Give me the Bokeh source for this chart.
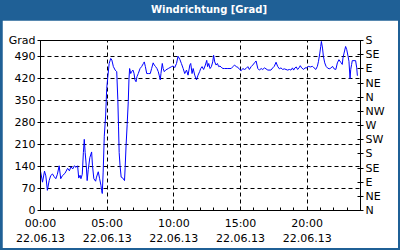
import pandas as pd
from bokeh.plotting import figure
from bokeh.models import Range1d, FixedTicker, LinearAxis, DatetimeTickFormatter, Div, Column
from bokeh.embed import file_html
from bokeh.resources import INLINE

TITLE = "Windrichtung [Grad]"
DATE = "2013-06-22"

# minutes after midnight, wind direction in degrees (0..540 scale)
minutes = [0, 9, 18, 24, 31, 39, 46, 54, 61, 69, 76, 84, 91, 98, 110, 122, 130, 137, 145, 152,
           160, 167, 172, 178, 182, 188, 193, 197, 201, 206, 210, 215, 222, 230, 234, 240, 248, 252,
           260, 266, 272, 275, 278, 282, 287, 293,
           298, 303, 309, 316, 321, 328, 336, 343, 348, 351, 354, 358, 363, 369, 373, 378, 381, 385,
           390, 395, 398, 401, 406, 410, 416, 421, 425, 430, 434, 440, 448, 455, 463, 467, 472, 478,
           485, 494, 500, 507, 512, 518, 524, 530, 534, 539, 542, 548, 552, 557, 563, 575, 590, 597,
           604, 612, 619, 627, 634, 642, 649, 657, 664, 672, 676, 682, 687, 694, 702, 709, 716, 721,
           727, 734, 742, 748, 752, 757, 763, 769, 775, 779, 784, 790, 796, 802, 808, 813, 821, 828,
           843, 858, 866, 873, 881, 888, 896, 903, 910, 918, 925, 933, 940, 948, 955, 963, 970, 978,
           985, 993, 1000,
           1008, 1023, 1037, 1045, 1052, 1060, 1067, 1075, 1082, 1090, 1097, 1112, 1120, 1127, 1134,
           1139, 1145, 1151, 1157, 1163, 1169, 1175, 1184, 1190, 1199, 1205, 1214, 1224, 1231, 1239,
           1246, 1251, 1257, 1261, 1264, 1269, 1273, 1279, 1285, 1291, 1299, 1306, 1314, 1321, 1329,
           1336, 1343, 1351, 1358, 1361, 1366, 1373, 1378, 1384, 1388, 1393, 1396, 1400, 1403, 1411,
           1418, 1423, 1426]
degrees = [125, 90, 125, 110, 64, 95, 111, 116, 108, 101, 115, 142, 101, 110, 118, 134, 126, 139, 132, 142,
           137, 142, 103, 112, 101, 115, 184, 226, 184, 142, 95, 130, 168, 186, 142, 101, 93, 106,
           123, 101, 80, 64, 54, 122, 236, 300,
           388, 425, 467, 483, 478, 457, 446, 441, 352, 268, 184, 142, 106, 104, 100, 95, 137, 205,
           273, 346, 415, 451, 435, 441, 446, 435, 415, 409, 425, 435, 451, 457, 467, 472, 457, 435,
           435, 435, 451, 469, 462, 457, 451, 441, 430, 415, 435, 467, 451, 441, 446, 451, 457, 459,
           454, 467, 490, 480, 467, 451, 435, 446, 430, 462, 467, 435, 451, 430, 415, 430, 441, 451,
           457, 448, 462, 477, 457, 467, 451, 457, 472, 493, 472, 462, 467, 457, 459, 455, 451, 451,
           451, 451, 457, 462, 457, 455, 448, 444, 451, 448, 451, 457, 448, 457, 462, 469, 475, 451,
           446, 451, 448,
           453, 446, 446, 453, 458, 471, 458, 450, 453, 448, 450, 446, 448, 446, 453,
           446, 453, 456, 448, 453, 460, 453, 448, 453, 453, 458, 456, 458, 453, 448,
           458, 474, 500, 521, 537, 516, 490, 469, 458, 453, 450, 452, 458, 450, 448,
           469, 479, 471, 464, 484, 500, 521, 511, 490, 474, 419, 448, 464, 476, 476,
           476, 453, 428]

y_ticks = [0, 70, 140, 210, 280, 350, 420, 490]
y_top = 540
y_unit = "Grad"
dir_ticks = [0, 45, 90, 135, 180, 225, 270, 315, 360, 405, 450, 495, 540]
dir_labels = ["N", "NE", "E", "SE", "S", "SW", "W", "NW", "N", "NE", "E", "SE", "S"]
x_major_hours = [0, 5, 10, 15, 20]
x_minor_hours = list(range(0, 25))

BLUE = "#1F6096"
FONT = "DejaVu Sans"

base = pd.Timestamp(DATE)
times = base + pd.to_timedelta(minutes, unit="m")
base_ms = base.value // 10**6
H = 3600 * 1000

p = figure(width=396, height=228, x_axis_type="datetime", output_backend="svg",
           toolbar_location=None, min_border_left=38, min_border_right=38,
           min_border_top=20, min_border_bottom=37, margin=(0, 2, 2, 2),
           x_range=Range1d(base, base + pd.Timedelta(hours=24)),
           y_range=Range1d(0, y_top))
p.background_fill_color = "white"
p.border_fill_color = "white"
p.outline_line_color = "black"
p.outline_line_width = 1

p.line(times, degrees, line_color="#0000FF", line_width=1)

xt = FixedTicker(ticks=[base_ms + h * H for h in x_major_hours],
                 minor_ticks=[base_ms + h * H for h in x_minor_hours])
xa = p.xaxis[0]
xa.ticker = xt
fmt = "%H:%M\n%d.%m.%y"
xa.formatter = DatetimeTickFormatter(hours=fmt, hourmin=fmt, minutes=fmt, minsec=fmt,
                                     days=fmt, months=fmt, years=fmt, context=None)
xa.major_tick_in = 3
xa.major_tick_out = 0
xa.minor_tick_in = 3
xa.minor_tick_out = 0
xa.major_label_standoff = 6

ya = p.yaxis[0]
ya.ticker = FixedTicker(ticks=y_ticks + [y_top])
ya.major_label_overrides = {y_top: y_unit}
ya.major_tick_in = 3
ya.major_tick_out = 3
ya.minor_tick_line_color = None
ya.major_label_standoff = 2

ra = LinearAxis(ticker=FixedTicker(ticks=dir_ticks),
                major_label_overrides={t: l for t, l in zip(dir_ticks, dir_labels)})
ra.major_tick_in = 3
ra.major_tick_out = 3
ra.minor_tick_line_color = None
ra.major_label_standoff = 2
p.add_layout(ra, "right")

for ax in (xa, ya, ra):
    ax.axis_line_color = "black"
    ax.major_tick_line_color = "black"
    ax.major_label_text_font = FONT
    ax.major_label_text_font_size = "11px"
    ax.major_label_text_color = "black"
xa.minor_tick_line_color = "black"

for g in (p.xgrid[0], p.ygrid[0]):
    g.grid_line_color = "black"
    g.grid_line_dash = "4 3"
    g.grid_line_width = 1
p.ygrid[0].ticker = FixedTicker(ticks=y_ticks)

title = Div(text=TITLE, width=400, height=20, margin=0,
            styles={"color": "white", "font-weight": "bold", "font-family": FONT,
                    "font-size": "10px", "text-align": "center", "line-height": "20px",
                    "padding-left": "18px", "box-sizing": "border-box",
                    "background-color": BLUE})

layout = Column(children=[title, p], spacing=0, margin=0, width=400, height=250,
                styles={"background-color": BLUE})

open("out.html", "w").write(file_html(layout, INLINE))
